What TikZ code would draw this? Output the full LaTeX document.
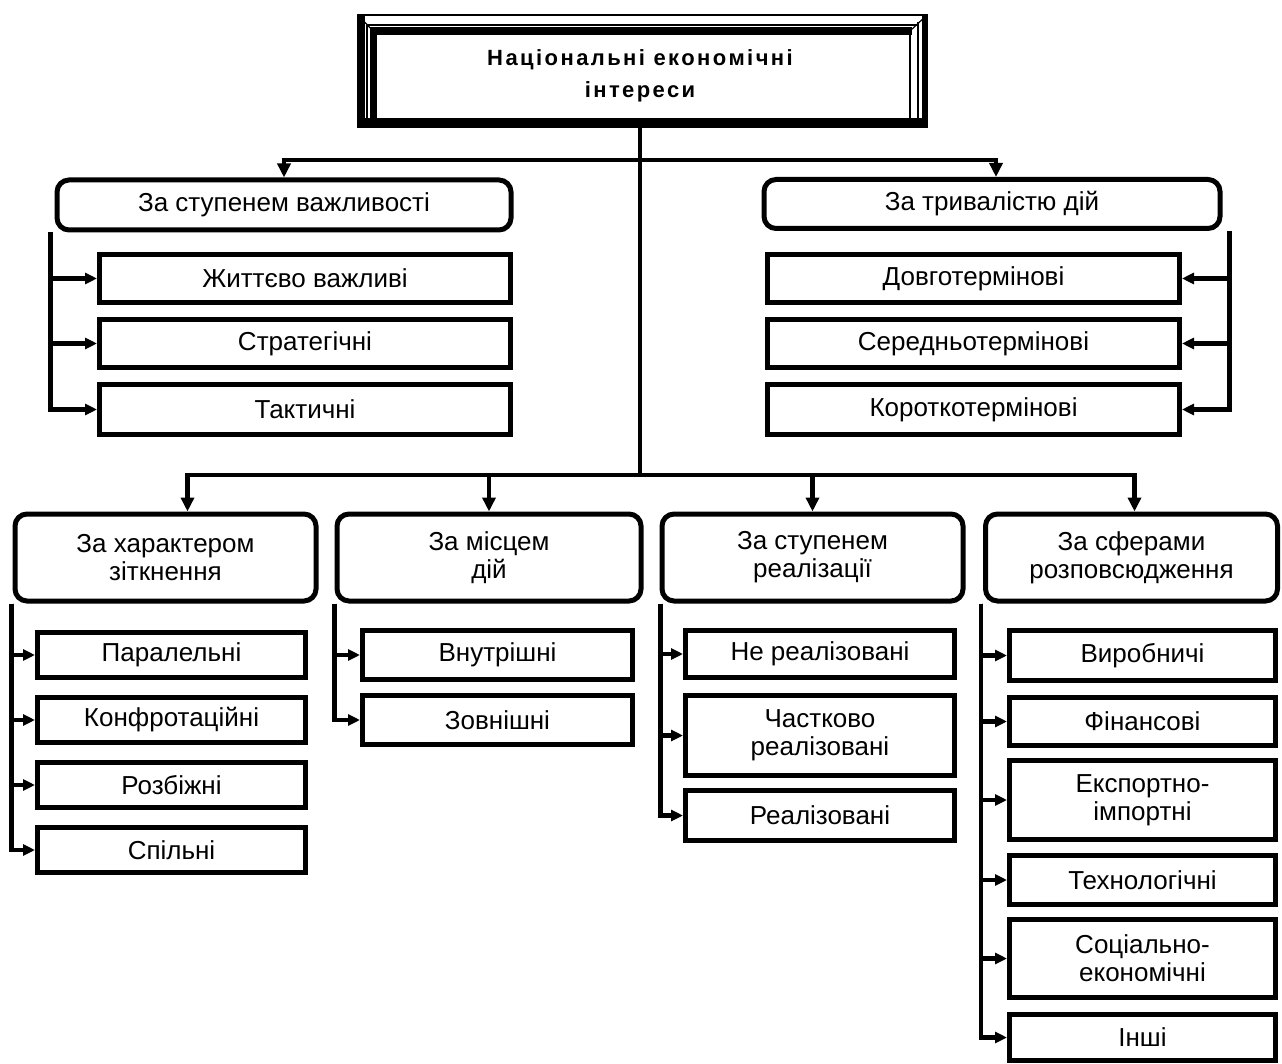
\documentclass[tikz,border=0pt]{standalone}
\usepackage{fontspec}
\setmainfont{Liberation Sans}
\newfontfamily\titlefont{Liberation Sans}[LetterSpace=11]
\usetikzlibrary{arrows.meta}
\tikzset{
  sub/.style={draw, line width=5pt, inner sep=2pt, align=center,
    font=\fontsize{26}{28}\selectfont},
  cat/.style={draw, line width=5pt, rounded corners=12pt, inner sep=2pt, align=center,
    font=\fontsize{26}{28}\selectfont},
  lin/.style={line width=4.5pt},
  arr/.style={line width=4.5pt, -{Triangle[length=14pt,width=13pt]}},
  sarr/.style={line width=4.5pt, -{Triangle[length=12pt,width=11pt]}},
}
\begin{document}
\begin{tikzpicture}[x=1pt,y=-1pt]
\useasboundingbox (0,0) rectangle (1282,1064);
% ---- title frame ----
\draw[line width=2pt] (358,15) rectangle (927,127);
\fill (358,118) rectangle (927,127);
\fill (922,15) rectangle (927,127);
\fill (358,15) rectangle (365,127);
\draw[line width=8pt] (370,31) -- (912,31);
\draw[line width=7pt] (373.5,27) -- (373.5,121);
\draw[line width=1.2pt] (367,25) -- (367,120);
\draw[line width=1.2pt] (367,25) -- (918,25);
\draw[line width=1.2pt] (910,31) -- (910,118);
\draw[line width=1.2pt] (918,22) -- (918,120);
\draw[line width=1.2pt] (358,15) -- (373,31) (927,15) -- (910,31) (358,127) -- (373,118) (927,127) -- (910,118);
\node[minimum width=569pt, minimum height=102pt, inner sep=0pt, align=center,
  font=\titlefont\bfseries\fontsize{22}{32}\selectfont] (title) at (640,76)
  {Національні економічні\\інтереси};
% ---- upper categories ----
\node[cat, minimum width=454pt, minimum height=50pt] (c1) at (284,205) {За ступенем важливості};
\node[cat, minimum width=456pt, minimum height=49pt] (c2) at (992,204) {За тривалістю дій};
\node[sub, minimum width=411pt, minimum height=48pt] (s11) at (305,278.5) {Життєво важливі};
\node[sub, minimum width=411pt, minimum height=48pt] (s12) at (305,343.5) {Стратегічні};
\node[sub, minimum width=411pt, minimum height=50pt] (s13) at (305,409.5) {Тактичні};
\node[sub, minimum width=412pt, minimum height=48pt] (s21) at (973.5,278.5) {Довготермінові};
\node[sub, minimum width=412pt, minimum height=48pt] (s22) at (973.5,343.5) {Середньотермінові};
\node[sub, minimum width=412pt, minimum height=50pt] (s23) at (973.5,409.5) {Короткотермінові};
% ---- lower categories ----
\node[cat, minimum width=301pt, minimum height=87pt] (b1) at (165.5,557.5) {За характером\\зіткнення};
\node[cat, minimum width=304pt, minimum height=87pt] (b2) at (489,557.5) {За місцем\\дій};
\node[cat, minimum width=301pt, minimum height=87pt] (b3) at (812.5,557.5) {За ступенем\\реалізації};
\node[cat, minimum width=292pt, minimum height=87pt] (b4) at (1131.5,557.5) {За сферами\\розповсюдження};
% column 1
\node[sub, minimum width=268pt, minimum height=45pt] (p11) at (171.5,655) {Паралельні};
\node[sub, minimum width=268pt, minimum height=45pt] (p12) at (171.5,720) {Конфротаційні};
\node[sub, minimum width=268pt, minimum height=45pt] (p13) at (171.5,785) {Розбіжні};
\node[sub, minimum width=268pt, minimum height=45pt] (p14) at (171.5,850) {Спільні};
% column 2
\node[sub, minimum width=270pt, minimum height=49pt] (p21) at (497.5,655) {Внутрішні};
\node[sub, minimum width=270pt, minimum height=49pt] (p22) at (497.5,720) {Зовнішні};
% column 3
\node[sub, minimum width=269pt, minimum height=47pt] (p31) at (820,654) {Не реалізовані};
\node[sub, minimum width=269pt, minimum height=80pt] (p32) at (820,735.5) {Частково\\реалізовані};
\node[sub, minimum width=269pt, minimum height=50pt] (p33) at (820,815.5) {Реалізовані};
% column 4
\node[sub, minimum width=266pt, minimum height=50pt] (p41) at (1142.5,655.5) {Виробничі};
\node[sub, minimum width=266pt, minimum height=48pt] (p42) at (1142.5,721.5) {Фінансові};
\node[sub, minimum width=266pt, minimum height=79pt] (p43) at (1142.5,800) {Експортно-\\імпортні};
\node[sub, minimum width=266pt, minimum height=49pt] (p44) at (1142.5,880) {Технологічні};
\node[sub, minimum width=266pt, minimum height=78pt] (p45) at (1142.5,958.5) {Соціально-\\економічні};
\node[sub, minimum width=266pt, minimum height=46pt] (p46) at (1142.5,1037.5) {Інші};
% ---- connectors ----
\coordinate (j1) at (640,160);
\coordinate (j2) at (640,475);
\draw[lin] (title.south) -- (j2);
\draw[arr] (j1) -| (c1.north);
\draw[arr] (j1) -| ([xshift=4pt]c2.north);
\draw[arr] (j2) -| ([xshift=22pt]b1.north);
\draw[arr] (j2) -| (b2.north);
\draw[arr] (j2) -| (b3.north);
\draw[arr] (j2) -| ([xshift=3pt]b4.north);
% brackets upper
\foreach \t in {s11,s12,s13}
  \draw[sarr] ([xshift=-4pt]c1.south west) |- (\t.west);
\foreach \t in {s21,s22,s23}
  \draw[sarr] ([xshift=7pt]c2.south east) |- (\t.east);
% brackets lower
\foreach \t in {p11,p12,p13,p14}
  \draw[sarr] ([xshift=-1pt]b1.south west) |- (\t.west);
\foreach \t in {p21,p22}
  \draw[sarr] (b2.south west) |- (\t.west);
\foreach \t in {p31,p32,p33}
  \draw[sarr] ([xshift=1pt]b3.south west) |- (\t.west);
\foreach \t in {p41,p42,p43,p44,p45,p46}
  \draw[sarr] ([xshift=-2pt]b4.south west) |- (\t.west);
\end{tikzpicture}
\end{document}
